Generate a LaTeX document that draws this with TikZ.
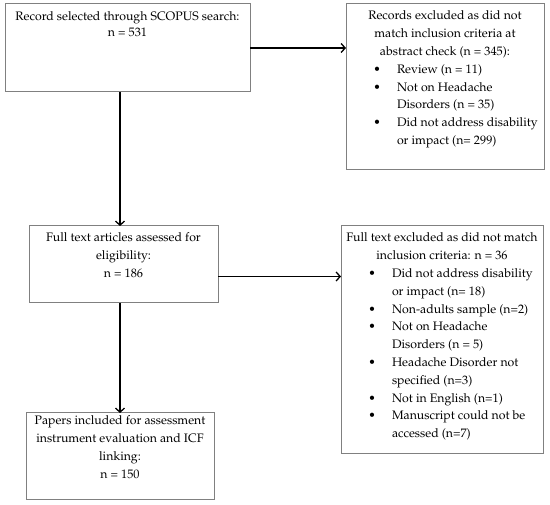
\documentclass[tikz,border=0pt]{standalone}
\usepackage[T1]{fontenc}
\usepackage{mathpazo}
\usetikzlibrary{arrows.meta}
\definecolor{boxgray}{RGB}{128,128,128}
\newcommand\boxtext[4]{\parbox[c][#2][t]{#1}{\fontsize{12.3}{17.8}\selectfont\centering\rule{0pt}{#3}#4}}
\newcommand\itemsetup{\par\leftskip=51pt\rightskip=0pt plus 1fil\parindent=0pt\parskip=0pt}
\newcommand\bul{\par\noindent\llap{\makebox[0pt]{\textbullet}\hspace{20pt}}}
\tikzset{
  flowbox/.style={draw=boxgray, line width=1pt, inner sep=0pt, outer sep=0pt, rectangle},
  flowarrow/.style={draw=black, line width=1.3pt, -{Straight Barb[length=4pt,width=9pt]}},
}
\begin{document}
\begin{tikzpicture}[x=1pt,y=1pt]
\useasboundingbox (0,0) rectangle (550,505);
\node[flowbox] (b1) at (127.5,457) {\boxtext{245pt}{88pt}{16.5pt}{\fontsize{12.3}{16.5}\selectfont Record selected through SCOPUS search:\\ n = 531}};
\node[flowbox] (b2) at (445,418) {\boxtext{198pt}{166pt}{16pt}{Records excluded as did not\\ match inclusion criteria at\\ abstract check (n = 345):\itemsetup
\bul Review (n = 11)
\bul Not on Headache\\ Disorders (n = 35)
\bul Did not address disability\\ or impact (n= 299)\par}};
\node[flowbox] (b3) at (123.5,240.5) {\boxtext{189pt}{77pt}{15.7pt}{Full text articles assessed for\\ eligibility:\\ n = 186}};
\node[flowbox] (b4) at (442,165) {\boxtext{202pt}{228pt}{16pt}{Full text excluded as did not match\\ inclusion criteria: n = 36\itemsetup
\bul Did not address disability\\ or impact (n= 18)
\bul Non-adults sample (n=2)
\bul Not on Headache\\ Disorders (n = 5)
\bul Headache Disorder not\\ specified (n=3)
\bul Not in English (n=1)
\bul Manuscript could not be\\ accessed (n=7)\par}};
\node[flowbox] (b5) at (120,48.5) {\boxtext{188pt}{87pt}{11.7pt}{Papers included for assessment\\ instrument evaluation and ICF\\ linking:\\ n = 150}};
\draw[flowarrow] (b1.east) -- (b1.east -| b2.west);
\draw[flowarrow] (b1.south -| b5.north) -- (b3.north -| b5.north);
\draw[flowarrow] ([yshift=-12pt]b3.east) -- ([yshift=-12pt]b3.east -| b4.west);
\draw[flowarrow] (b3.south -| b5.north) -- (b5.north);
\end{tikzpicture}
\end{document}
